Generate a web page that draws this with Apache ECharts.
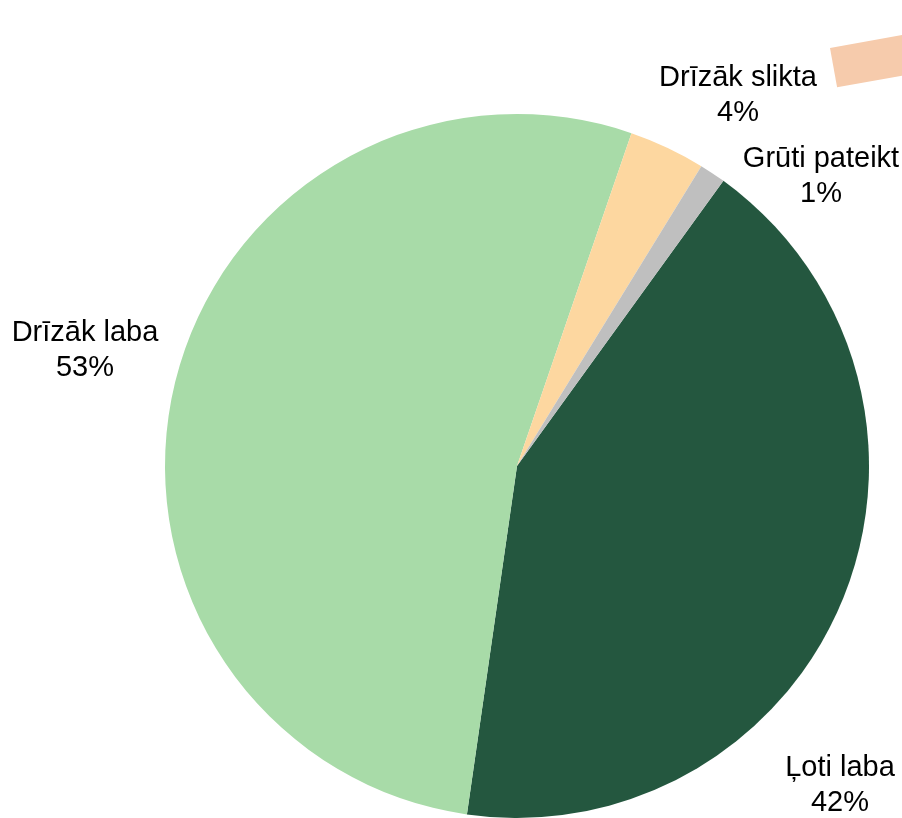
<!DOCTYPE html>
<html>
<head>
<meta charset="utf-8">
<script src="https://cdn.jsdelivr.net/npm/echarts@6/dist/echarts.min.js"></script>
<style>
  html, body { margin: 0; padding: 0; background: #fff; }
  #chart { width: 902px; height: 818px; }
</style>
</head>
<body>
<div id="chart"></div>
<script>
const categories = ['Ļoti laba', 'Drīzāk laba', 'Drīzāk slikta', 'Grūti pateikt'];
const values = [42.3, 53.0, 3.5, 1.2];
const shownPercents = [42, 53, 4, 1];
const colors = ['#24573F', '#A8DBA8', '#FDD7A0', '#BFBFBF'];
// label centres (px) for each slice
const labelPos = [[840, 785], [85, 350], [738, 95], [821, 176]];

const chart = echarts.init(document.getElementById('chart'));

chart.setOption({
  animation: false,
  graphic: [
    {
      type: 'rect',
      x: 830,
      y: 48,
      rotation: 10.2 * Math.PI / 180,
      shape: { x: 0, y: 0, width: 110, height: 40 },
      style: { fill: '#F6CBAC' },
      silent: true,
    },
  ],
  series: [
    {
      type: 'pie',
      center: [517, 466],
      radius: 352,
      startAngle: 54.1,
      clockwise: true,
      avoidLabelOverlap: false,
      data: categories.map((name, i) => ({
        name: name,
        value: values[i],
        itemStyle: { color: colors[i] },
      })),
      label: {
        show: true,
        position: 'outside',
        formatter: (p) => p.name + '\n' + shownPercents[p.dataIndex] + '%',
        fontFamily: 'Liberation Sans, Arial, sans-serif',
        fontSize: 29,
        lineHeight: 35,
        color: '#000',
        align: 'center',
        overflow: 'none',
      },
      labelLine: { show: false },
      labelLayout: (params) => ({
        x: labelPos[params.dataIndex][0],
        y: labelPos[params.dataIndex][1],
        align: 'center',
        verticalAlign: 'middle',
        hideOverlap: false,
      }),
    },
  ],
});
</script>
</body>
</html>
